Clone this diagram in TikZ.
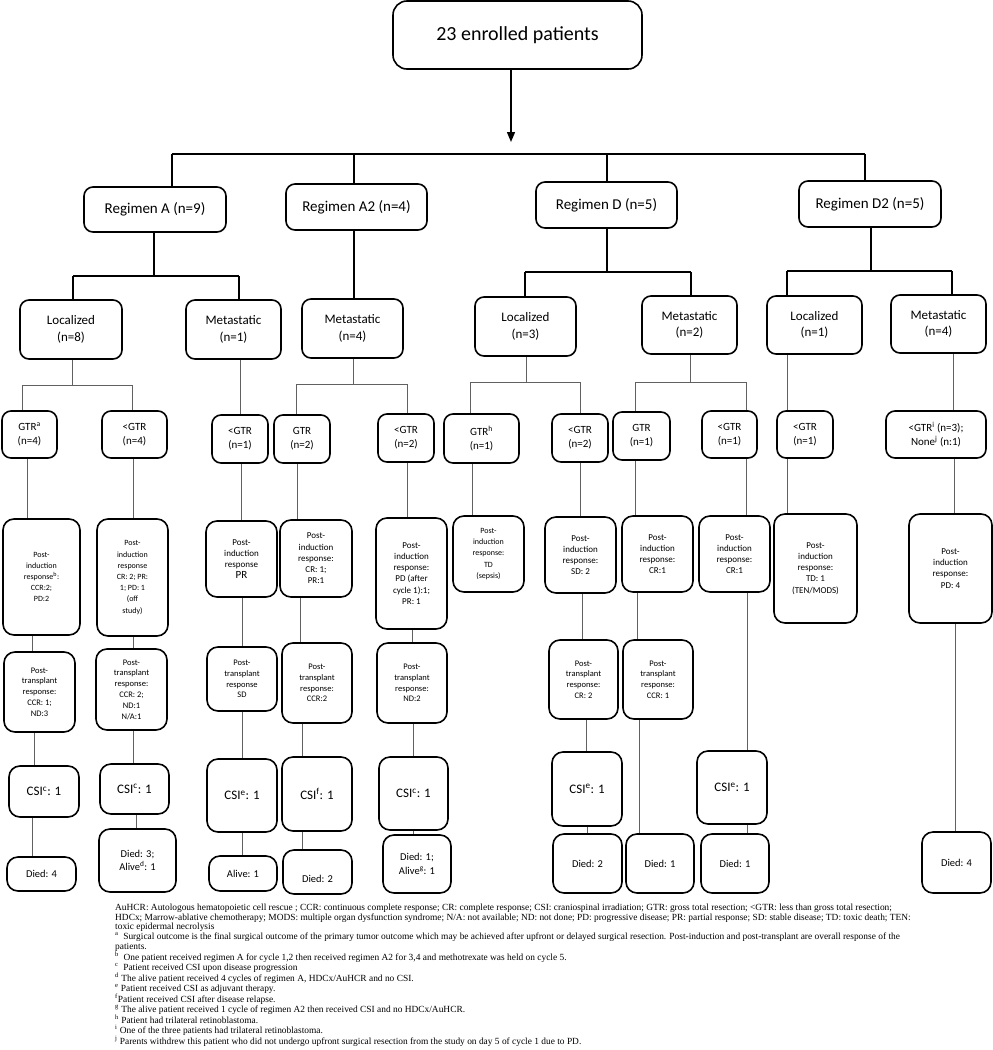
\documentclass[tikz,border=0pt]{standalone}
\usepackage{fontspec}
\setmainfont{Carlito}
\newfontfamily\fnfont{Liberation Serif}
\usetikzlibrary{arrows.meta}
\tikzset{
  bx/.style={draw=black, line width=1.6pt, rounded corners=9pt, inner sep=0pt, align=center},
  pbx/.style={bx, rounded corners=11pt},
  conn/.style={draw=black!62, line width=0.9pt},
  mconn/.style={draw=black, line width=1.4pt},
  fA/.style={font=\fontsize{20}{24}\selectfont},
  fB/.style={font=\fontsize{15}{18}\selectfont},
  fC/.style={font=\fontsize{13}{16.5}\selectfont},
  fD/.style={font=\fontsize{11}{13.8}\selectfont},
  fE/.style={font=\fontsize{9}{11.2}\selectfont},
  fS/.style={font=\fontsize{8}{11.2}\selectfont},
  fT/.style={font=\fontsize{8.5}{10.8}\selectfont},
  fU/.style={font=\fontsize{13}{16}\selectfont},
  fV/.style={font=\fontsize{10.5}{13.3}\selectfont},
}
% box by corners: [options]{name}{x1}{y1}{x2}{y2}{text}
\newcommand\bx[7][]{\node[bx,#1,minimum width={(#5-#3)*1pt},minimum height={(#6-#4)*1pt}] (#2) at ({(#3+#5)/2},{(#4+#6)/2}) {#7};}
% vertical connector: [style]{from}{to}{x}
\newcommand\vc[4][conn]{\coordinate (vx) at (#4,0); \draw[#1] (#2.south -| vx) -- (#3.north -| vx);}
% bus: [style]{parent}{xp}{ybus}{child1}{x1}{child2}{x2}
\newcommand\busc[8][conn]{\coordinate (b0) at (#3,#4); \coordinate (b1) at (#6,#4); \coordinate (b2) at (#8,#4);
  \draw[#1] (#2.south -| b0) -- (b0); \draw[#1] (b1) -- (b2);
  \draw[#1] (b1) -- (#5.north -| b1); \draw[#1] (b2) -- (#7.north -| b2);}
\newcommand\sps[1]{\textsuperscript{#1}}
\begin{document}
\begin{tikzpicture}[x=1pt,y=-1pt]
\useasboundingbox (0,0) rectangle (993,1050);
% level 0
\bx[fA,rounded corners=14pt]{top}{393}{1}{642}{69}{23 enrolled patients}
% level 1
\bx[fB]{regA}{84}{187}{226}{232}{Regimen A (n=9)}
\bx[fB]{regA2}{286}{184}{427}{230}{Regimen A2 (n=4)}
\bx[fB]{regD}{536}{182}{677}{228}{Regimen D (n=5)}
\bx[fB]{regD2}{799}{181}{941}{227}{Regimen D2 (n=5)}
% level 2
\bx[fC]{locA}{20}{300}{122}{359}{Localized\\(n=8)}
\bx[fC]{metaA}{186}{300}{281}{359}{Metastatic\\(n=1)}
\bx[fC]{metaA2}{302}{299}{403}{358}{Metastatic\\(n=4)}
\bx[fC]{locD}{475}{297}{576}{356}{Localized\\(n=3)}
\bx[fC]{metaD}{642}{296}{737}{354}{Metastatic\\(n=2)}
\bx[fC]{locD2}{767}{296}{862}{354}{Localized\\(n=1)}
\bx[fC]{metaD2}{891}{295}{986}{353}{Metastatic\\(n=4)}
% level 3
\bx[fD]{gA1}{2}{411}{57}{458}{GTR\sps{a}\\(n=4)}
\bx[fD]{gA2}{102}{411}{167}{458}{<GTR\\(n=4)}
\bx[fD]{gA3}{212}{415}{268}{463}{<GTR\\(n=1)}
\bx[fD]{gA4}{274}{415}{330}{463}{GTR\\(n=2)}
\bx[fD]{gA5}{378}{414}{434}{462}{<GTR\\(n=2)}
\bx[fD]{gD1}{444}{414}{519}{463}{GTR\sps{h}\\(n=1)}
\bx[fD]{gD2}{552}{414}{608}{462}{<GTR\\(n=2)}
\bx[fD]{gD3}{613}{412}{670}{460}{GTR\\(n=1)}
\bx[fD]{gD4}{702}{411}{757}{458}{<GTR\\(n=1)}
\bx[fD]{gD5}{777}{411}{833}{458}{<GTR\\(n=1)}
\bx[fD]{gD6}{886}{411}{986}{458}{<GTR\sps{i} (n=3);\\None\sps{j} (n:1)}
% level 4: post-induction
\bx[pbx,fS]{pA1}{3}{519}{80}{635}{Post-\\induction\\response\sps{b}:\\CCR:2;\\PD:2}
\bx[pbx,fS]{pA2}{97}{519}{168}{636}{Post-\\induction\\response\\CR: 2; PR:\\1; PD: 1\\(off\\study)}
\bx[pbx,fE]{pA3}{206}{521}{277}{597}{Post-\\induction\\response\\{\fontsize{11}{12.5}\selectfont PR}}
\bx[pbx,fE]{pA4}{280}{520}{352}{597}{Post-\\induction\\response:\\CR: 1;\\PR:1}
\bx[pbx,fE]{pA5}{376}{518}{447}{629}{Post-\\induction\\response:\\PD (after\\cycle 1):1;\\PR: 1}
\bx[pbx,fS]{pD1}{453}{516}{524}{592}{Post-\\induction\\response:\\TD\\(sepsis)}
\bx[pbx,fE]{pD2}{545}{517}{616}{593}{Post-\\induction\\response:\\SD: 2}
\bx[pbx,fE]{pD3}{622}{516}{693}{592}{Post-\\induction\\response:\\CR:1}
\bx[pbx,fE]{pD4}{699}{516}{770}{592}{Post-\\induction\\response:\\CR:1}
\bx[pbx,fE]{pD5}{774}{514}{857}{623}{Post-\\induction\\response:\\TD: 1\\(TEN/MODS)}
\bx[pbx,fE]{pD6}{909}{514}{992}{623}{Post-\\induction\\response:\\PD: 4}
% level 5: post-transplant
\bx[pbx,fT]{tA1}{4}{652}{75}{732}{Post-\\transplant\\response:\\CCR: 1;\\ND:3}
\bx[pbx,fT]{tA2}{96}{649}{167}{730}{Post-\\transplant\\response:\\CCR: 2;\\ND:1\\N/A:1}
\bx[pbx,fT]{tA3}{207}{647}{277}{711}{Post-\\transplant\\response\\SD}
\bx[pbx,fT]{tA4}{282}{643}{352}{723}{Post-\\transplant\\response:\\CCR:2}
\bx[pbx,fT]{tA5}{377}{643}{447}{723}{Post-\\transplant\\response:\\ND:2}
\bx[pbx,fT]{tD2}{549}{640}{618}{719}{Post-\\transplant\\response:\\CR: 2}
\bx[pbx,fT]{tD3}{623}{640}{693}{719}{Post-\\transplant\\response:\\CCR: 1}
% level 6: CSI
\bx[pbx,fU]{cA1}{9}{766}{79}{817}{CSI\sps{c}: 1}
\bx[pbx,fU]{cA2}{100}{764}{169}{814}{CSI\sps{c}: 1}
\bx[pbx,fU]{cA3}{207}{759}{277}{832}{CSI\sps{e}: 1}
\bx[pbx,fU]{cA4}{282}{757}{352}{831}{CSI\sps{f}: 1}
\bx[pbx,fU]{cA5}{379}{757}{448}{830}{CSI\sps{c}: 1}
\bx[pbx,fU]{cD2}{552}{752}{622}{826}{CSI\sps{e}: 1}
\bx[pbx,fU]{cD4}{697}{751}{767}{824}{CSI\sps{e}: 1}
% level 7
\bx[pbx,fV]{dA1}{7}{857}{76}{891}{Died: 4}
\bx[pbx,fV]{dA2}{99}{829}{176}{892}{Died: 3;\\Alive\sps{d}: 1}
\bx[pbx,fV]{dA3}{209}{856}{277}{891}{Alive: 1}
\bx[pbx,fV]{dA4}{283}{850}{352}{894}{\raisebox{-10pt}[0pt][0pt]{Died: 2}}
\bx[pbx,fV]{dA5}{383}{835}{451}{893}{Died: 1;\\Alive\sps{g}: 1}
\bx[pbx,fV]{dD2}{553}{834}{622}{893}{Died: 2}
\bx[pbx,fV]{dD3}{626}{834}{694}{893}{Died: 1}
\bx[pbx,fV]{dD4}{701}{834}{769}{893}{Died: 1}
\bx[pbx,fV]{dD6}{922}{832}{991}{893}{Died: 4}
% connectors: top
\coordinate (arr) at (511,142);
\draw[mconn,-{Triangle[length=10pt,width=8pt]}] (top.south -| arr) -- (arr);
\coordinate (bL) at (172,154); \coordinate (bR) at (865,154);
\coordinate (xA2) at (354,154); \coordinate (xD) at (607,154);
\draw[mconn] (bL) -- (bR);
\draw[mconn] (bL) -- (regA.north -| bL);
\draw[mconn] (xA2) -- (regA2.north -| xA2);
\draw[mconn] (xD) -- (regD.north -| xD);
\draw[mconn] (bR) -- (regD2.north -| bR);
% level 1 -> 2
\busc[mconn]{regA}{154}{276}{locA}{73}{metaA}{239}
\vc[mconn]{regA2}{metaA2}{354}
\busc[mconn]{regD}{607}{272}{locD}{525}{metaD}{691}
\busc[mconn]{regD2}{871}{271}{locD2}{787}{metaD2}{952}
% level 2 -> 3
\busc{locA}{72}{385}{gA1}{22}{gA2}{132}
\vc{metaA}{gA3}{240}
\busc{metaA2}{353}{384}{gA4}{296}{gA5}{407}
\busc{locD}{526}{382}{gD1}{470}{gD2}{580}
\busc{metaD}{690}{382}{gD3}{635}{gD4}{746}
\vc{locD2}{gD5}{787}
\vc{metaD2}{gD6}{953}
% level 3 -> 4
\vc{gA1}{pA1}{27} \vc{gA2}{pA2}{133} \vc{gA3}{pA3}{241} \vc{gA4}{pA4}{297}
\vc{gA5}{pA5}{407} \vc{gD1}{pD1}{472} \vc{gD2}{pD2}{580} \vc{gD3}{pD3}{635}
\vc{gD4}{pD4}{746} \vc{gD5}{pD5}{787} \vc{gD6}{pD6}{954}
% level 4 -> 5
\vc{pA1}{tA1}{32} \vc{pA2}{tA2}{133} \vc{pA3}{tA3}{242} \vc{pA4}{tA4}{300}
\vc{pA5}{tA5}{412} \vc{pD2}{tD2}{582} \vc{pD3}{tD3}{637}
% level 5 -> 6
\vc{tA1}{cA1}{34} \vc{tA2}{cA2}{133} \vc{tA3}{cA3}{242} \vc{tA4}{cA4}{302}
\vc{tA5}{cA5}{413} \vc{tD2}{cD2}{586} \vc{pD4}{cD4}{747}
% level 6 -> 7
\vc{cA1}{dA1}{32} \vc{cA2}{dA2}{136} \vc{cA3}{dA3}{242} \vc{cA4}{dA4}{302}
\vc{cA5}{dA5}{413} \vc{cD2}{dD2}{587} \vc{tD3}{dD3}{639} \vc{cD4}{dD4}{747}
\vc{pD6}{dD6}{955}
% footnotes
\node[anchor=north west, align=left, inner sep=0pt, font=\fnfont\fontsize{9.4}{9.6}\selectfont] (notes) at (115,904) {\lineskiplimit=-20pt%
AuHCR: Autologous hematopoietic cell rescue ; CCR: continuous complete response; CR: complete response; CSI: craniospinal irradiation; GTR: gross total resection; <GTR: less than gross total resection;\\
HDCx; Marrow-ablative chemotherapy; MODS: multiple organ dysfunction syndrome; N/A: not available; ND: not done; PD: progressive disease; PR: partial response; SD: stable disease; TD: toxic death; TEN:\\
toxic epidermal necrolysis\\
\sps{a}\enspace Surgical outcome is the final surgical outcome of the primary tumor outcome which may be achieved after upfront or delayed surgical resection. Post-induction and post-transplant are overall response of the\\
patients.\\
\sps{b}\enspace One patient received regimen A for cycle 1,2 then received regimen A2 for 3,4 and methotrexate was held on cycle 5.\\
\sps{c}\enspace Patient received CSI upon disease progression\\
\sps{d} The alive patient received 4 cycles of regimen A, HDCx/AuHCR and no CSI.\\
\sps{e} Patient received CSI as adjuvant therapy.\\
\sps{f}Patient received CSI after disease relapse.\\
\sps{g} The alive patient received 1 cycle of regimen A2 then received CSI and no HDCx/AuHCR.\\
\sps{h} Patient had trilateral retinoblastoma.\\
\sps{i} One of the three patients had trilateral retinoblastoma.\\
\sps{j} Parents withdrew this patient who did not undergo upfront surgical resection from the study on day 5 of cycle 1 due to PD.};
\end{tikzpicture}
\end{document}
